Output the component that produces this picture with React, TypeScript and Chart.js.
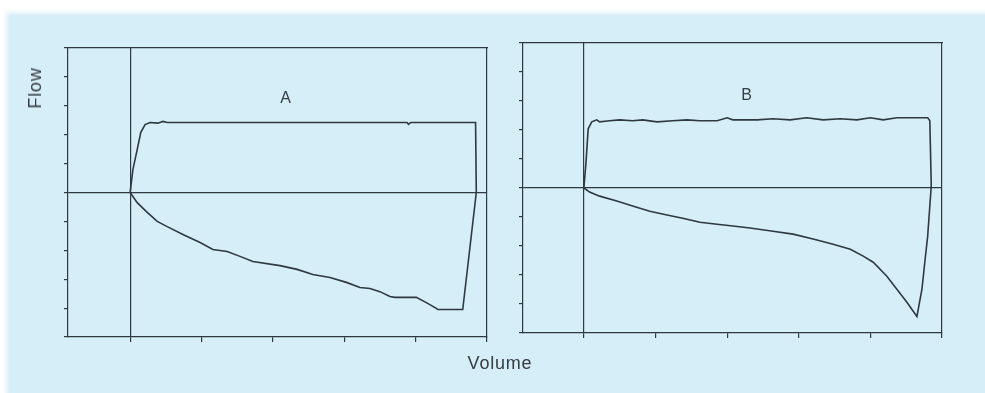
import React, { useEffect, useRef } from "react";
import { Chart, registerables } from "chart.js";

Chart.register(...registerables);

// Axis ticks shared by both loops
const flowTicks = [-5, -4, -3, -2, -1, 0, 1, 2, 3, 4, 5];
const volumeTicks = [0, 1, 2, 3, 4, 5];

// Loop A: square inspiratory plateau, sloping expiratory limb
const volumeA = [
  0, 0.04, 0.1, 0.15, 0.21, 0.28, 0.39, 0.46, 0.52, 1.5, 2.5, 3.6, 3.88, 3.9, 3.93, 4.84, 4.85, 4.66,
  4.31, 4.29, 4.15, 4.01, 3.71, 3.64, 3.5, 3.36, 3.22, 3.03, 2.8, 2.56, 2.34, 2.1, 1.72, 1.54, 1.36,
  1.16, 0.98, 0.74, 0.52, 0.38, 0.24, 0.1, 0,
];
const flowA = [
  0, 0.8, 1.49, 2.08, 2.35, 2.42, 2.4, 2.46, 2.42, 2.42, 2.42, 2.42, 2.42, 2.36, 2.42, 2.42, 0, -4.05,
  -4.05, -4.01, -3.81, -3.63, -3.63, -3.6, -3.43, -3.32, -3.29, -3.11, -2.94, -2.84, -2.66, -2.53,
  -2.39, -2.21, -2.04, -1.97, -1.73, -1.45, -1.18, -1.0, -0.69, -0.35, 0,
];

// Loop B: square inspiratory plateau, concave expiratory limb with late peak
const volumeB = [
  0, 0.03, 0.06, 0.11, 0.18, 0.22, 0.36, 0.5, 0.68, 0.82, 1.02, 1.24, 1.44, 1.62, 1.86, 2.0, 2.08, 2.28,
  2.42, 2.64, 2.88, 3.11, 3.34, 3.58, 3.81, 4.0, 4.18, 4.37, 4.55, 4.73, 4.8, 4.83, 4.85, 4.8, 4.76,
  4.72, 4.65, 4.51, 4.37, 4.23, 4.04, 3.9, 3.72, 3.48, 3.2, 2.92, 2.64, 2.32, 2.08, 1.86, 1.62, 1.38,
  1.16, 0.92, 0.68, 0.46, 0.22, 0.08, 0,
];
const flowB = [
  0, 0.9, 2.04, 2.28, 2.35, 2.28, 2.32, 2.35, 2.32, 2.35, 2.28, 2.32, 2.35, 2.32, 2.32, 2.42, 2.35, 2.35,
  2.35, 2.39, 2.35, 2.42, 2.35, 2.39, 2.35, 2.42, 2.35, 2.42, 2.42, 2.42, 2.42, 2.32, 0.07, -1.66, -2.56,
  -3.49, -4.43, -3.94, -3.49, -3.04, -2.56, -2.35, -2.11, -1.94, -1.76, -1.59, -1.49, -1.38, -1.31,
  -1.25, -1.18, -1.04, -0.93, -0.8, -0.62, -0.45, -0.28, -0.14, 0,
];

const INK = "#2f3840";
const CLEAR = "rgba(0,0,0,0)";
const W = 985;
const H = 393;

type Pad = { left: number; top: number; right: number; bottom: number };

function loopConfig(vol: number[], flow: number[], xMin: number, padding: Pad): any {
  const points = vol.map((v, i) => ({ x: v, y: flow[i] }));
  const zeroOnly = (ctx: any) => (ctx.tick && ctx.tick.value === 0 ? INK : CLEAR);
  return {
    type: "scatter",
    data: {
      datasets: [
        {
          data: points,
          showLine: true,
          borderColor: INK,
          borderWidth: 1.6,
          pointRadius: 0,
          tension: 0,
          fill: false,
        },
      ],
    },
    options: {
      responsive: false,
      animation: false,
      events: [],
      layout: { padding },
      plugins: { legend: { display: false }, tooltip: { enabled: false }, title: { display: false } },
      scales: {
        x: {
          type: "linear",
          position: "bottom",
          min: xMin,
          max: 5,
          afterBuildTicks: (s: any) => {
            s.ticks = volumeTicks.map((v) => ({ value: v }));
          },
          afterFit: (s: any) => {
            s.height = 5;
          },
          ticks: { display: false },
          grid: { color: zeroOnly, tickColor: INK, lineWidth: 1.2, tickLength: 5, drawTicks: true },
          border: { display: true, color: INK, width: 1.2 },
        },
        y: {
          type: "linear",
          position: "left",
          min: -5,
          max: 5,
          afterBuildTicks: (s: any) => {
            s.ticks = flowTicks.map((v) => ({ value: v }));
          },
          afterFit: (s: any) => {
            s.width = 4;
          },
          ticks: { display: false },
          grid: { color: zeroOnly, tickColor: INK, lineWidth: 1.2, tickLength: 4, drawTicks: true },
          border: { display: true, color: INK, width: 1.2 },
        },
        xTop: {
          type: "linear",
          position: "top",
          min: xMin,
          max: 5,
          afterFit: (s: any) => {
            s.height = 0;
          },
          ticks: { display: false },
          grid: { display: false },
          border: { display: true, color: INK, width: 1.2 },
        },
        yRight: {
          type: "linear",
          position: "right",
          min: -5,
          max: 5,
          afterFit: (s: any) => {
            s.width = 0;
          },
          ticks: { display: false },
          grid: { display: false },
          border: { display: true, color: INK, width: 1.2 },
        },
      },
    },
  };
}

function LoopCanvas({ config }: { config: any }) {
  const ref = useRef<HTMLCanvasElement | null>(null);
  useEffect(() => {
    if (!ref.current) return;
    const chart = new Chart(ref.current, config);
    return () => chart.destroy();
  }, [config]);
  return (
    <canvas
      ref={ref}
      width={W}
      height={H}
      style={{ position: "absolute", left: 0, top: 0, width: W, height: H }}
    />
  );
}

const configA = loopConfig(volumeA, flowA, -0.87, { left: 64, top: 48, right: W - 487, bottom: H - 337 - 5 });
const configB = loopConfig(volumeB, flowB, -0.85, { left: 519, top: 43, right: W - 942, bottom: H - 333 - 5 });

const labelFont = '"Liberation Sans", Arial, Helvetica, sans-serif';
const textColor = "#363b42";

function Label({ x, y, size, text, rotate }: { x: number; y: number; size: number; text: string; rotate?: boolean }) {
  return (
    <div
      style={{
        position: "absolute",
        left: x,
        top: y,
        transform: `translate(-50%, -50%)${rotate ? " rotate(-90deg)" : ""}`,
        fontFamily: labelFont,
        fontSize: size,
        lineHeight: 1,
        color: textColor,
        whiteSpace: "nowrap",
        letterSpacing: 0.8,
      }}
    >
      {text}
    </div>
  );
}

export default function App() {
  return (
    <div
      style={{
        position: "absolute",
        left: 0,
        top: 0,
        width: W,
        height: H,
        overflow: "hidden",
        background: "#d6eef7",
      }}
    >
      <div
        style={{
          position: "absolute",
          left: 0,
          top: 0,
          width: W,
          height: 16,
          background: "linear-gradient(to bottom, #ffffff 0px, #ffffff 9px, rgba(255,255,255,0) 16px)",
        }}
      />
      <div
        style={{
          position: "absolute",
          left: 0,
          top: 0,
          width: 10,
          height: H,
          background: "linear-gradient(to right, #ffffff 0px, #ffffff 3px, rgba(255,255,255,0) 10px)",
        }}
      />
      <LoopCanvas config={configA} />
      <LoopCanvas config={configB} />
      <Label x={35} y={88} size={18} text="Flow" rotate />
      <Label x={286} y={98} size={16} text="A" />
      <Label x={747} y={95} size={16} text="B" />
      <Label x={500} y={363} size={18} text="Volume" />
    </div>
  );
}
